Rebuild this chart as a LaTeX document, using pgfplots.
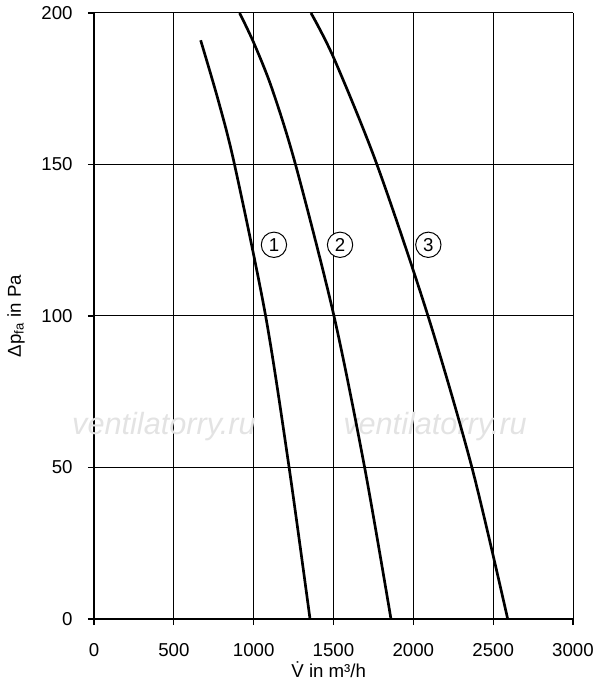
\documentclass[border=0pt]{standalone}
\usepackage{fontspec}
\setmainfont{Liberation Sans}
\usepackage{pgfplots}
\pgfplotsset{compat=1.18}

\begin{document}
\begin{tikzpicture}
\begin{axis}[
    scale only axis,
    width=359.25pt, height=454.5pt,
    xmin=0, xmax=3000, ymin=0, ymax=200,
    xtick={0,500,...,3000}, ytick={0,50,...,200},
    axis x line*=bottom, axis y line*=left,
    axis line style={line width=1.1pt, -},
    tick align=outside, major tick length=4.5pt,
    tick style={line width=0.8pt, black},
    grid=major,
    major grid style={line width=0.75pt, black},
    font=\fontsize{14}{16}\selectfont,
    /pgf/number format/assume math mode=true,
    /pgf/number format/1000 sep={},
    xticklabel style={yshift=-10pt},
    yticklabel style={xshift=-8pt},
    xlabel={\.{V} in m³/h},
    ylabel={Δp\textsubscript{fa} in Pa},
    every axis x label/.style={at={(axis description cs:0.49,0)}, anchor=center, yshift=-38pt},
    every axis y label/.style={at={(axis description cs:0,0.5)}, anchor=center, rotate=90, yshift=58.5pt},
    clip=false,
]
% watermark
\node[font=\fontsize{23}{26}\selectfont\itshape, text=gray!22] at (axis cs:438,63.4) {ventilatorry.ru};
\node[font=\fontsize{23}{26}\selectfont\itshape, text=gray!22] at (axis cs:2136,63.4) {ventilatorry.ru};

\addplot[black, line width=2pt, smooth] coordinates {
    (1353,0) (1222,50) (1075,100) (880,150) (779,171) (668,191)};
\addplot[black, line width=2pt, smooth] coordinates {
    (1860,0) (1695,50) (1503,100) (1262,150) (1115,175) (1002,190) (912,200)};
\addplot[black, line width=2pt, smooth] coordinates {
    (2591,0) (2367,50) (2092,100) (1772,150) (1503,185) (1359,200)};

\node[draw, circle, line width=0.75pt, minimum size=19pt, inner sep=0pt, fill=white] at (axis cs:1127,123.5) {1};
\node[draw, circle, line width=0.75pt, minimum size=19pt, inner sep=0pt, fill=white] at (axis cs:1541,123.5) {2};
\node[draw, circle, line width=0.75pt, minimum size=19pt, inner sep=0pt, fill=white] at (axis cs:2094,123.5) {3};
\end{axis}
\pgfresetboundingbox
\path (-70.5pt,-55.5pt) rectangle (379.5pt,464.25pt);
\end{tikzpicture}
\end{document}
